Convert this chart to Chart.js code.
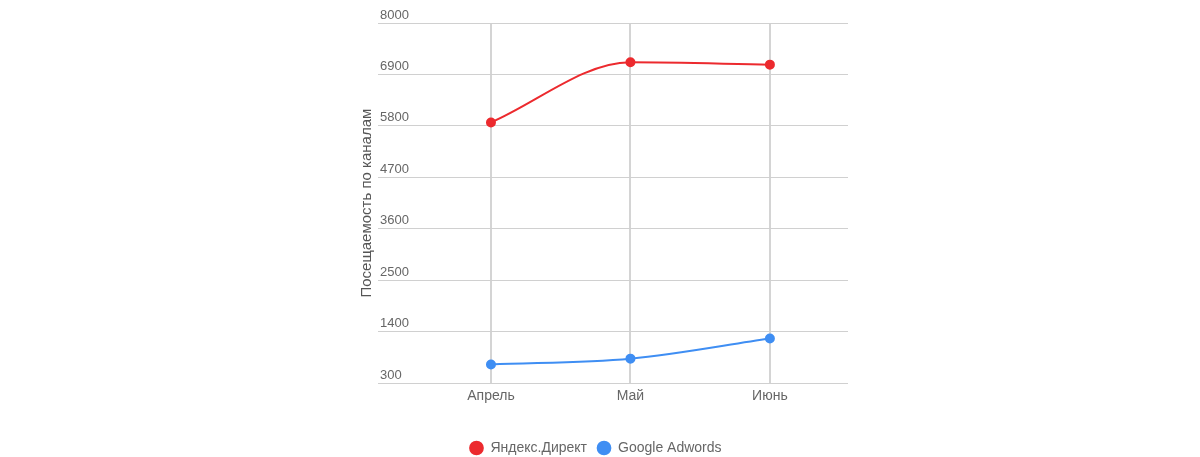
<!DOCTYPE html>
<html>
<head>
<meta charset="utf-8">
<script src="https://cdn.jsdelivr.net/npm/chart.js@4"></script>
<style>
  html, body { margin: 0; padding: 0; background: #fff; }
  #wrap { width: 1200px; height: 457px; }
</style>
</head>
<body>
<div id="wrap"><canvas id="chart"></canvas></div>
<script>
// data
const months = ['Апрель', 'Май', 'Июнь'];
const yandex = [5873, 7160, 7110];
const google = [700, 825, 1255];
const yTicks = [300, 1400, 2500, 3600, 4700, 5800, 6900, 8000];

const FONT = "'Liberation Sans', Arial, sans-serif";
const toPoints = arr => arr.map((v, i) => ({ x: i, y: v }));

// legend sits a bit lower and more to the left than Chart.js puts it
const legendNudge = {
    id: 'legendNudge',
    afterLayout(chart) {
        const lg = chart.legend;
        lg.top += 8;
        lg.bottom += 8;
        lg.left -= 8;
        lg.right -= 8;
    }
};

const ctx = document.getElementById('chart').getContext('2d');
new Chart(ctx, {
    type: 'line',
    data: {
        datasets: [{
            label: 'Яндекс.Директ',
            data: toPoints(yandex),
            borderColor: '#ec2a2e',
            backgroundColor: '#ec2a2e',
            borderWidth: 2,
            pointRadius: 4,
            cubicInterpolationMode: 'monotone'
        }, {
            label: 'Google Adwords',
            data: toPoints(google),
            borderColor: '#3f8ef3',
            backgroundColor: '#3f8ef3',
            borderWidth: 2,
            pointRadius: 4,
            cubicInterpolationMode: 'monotone'
        }]
    },
    plugins: [legendNudge],
    options: {
        responsive: true,
        maintainAspectRatio: false,
        animation: false,
        layout: { padding: { left: 359, right: 352, top: 23, bottom: 0 } },
        plugins: {
            tooltip: { enabled: false },
            legend: {
                position: 'bottom',
                labels: {
                    usePointStyle: true,
                    pointStyle: 'circle',
                    boxWidth: 14,
                    boxHeight: 9,
                    color: '#666',
                    font: { family: FONT, size: 14 },
                    padding: 10
                }
            }
        },
        scales: {
            x: {
                type: 'linear',
                min: -0.81,
                max: 2.56,
                afterBuildTicks: axis => { axis.ticks = months.map((m, i) => ({ value: i })); },
                afterFit: axis => { axis.height += 13; },
                ticks: {
                    callback: v => months[v],
                    color: '#666',
                    font: { family: FONT, size: 14 },
                    padding: 5,
                    maxRotation: 0
                },
                grid: { color: '#d4d4d4', lineWidth: 2, drawTicks: false },
                border: { display: false }
            },
            y: {
                min: 300,
                max: 8000,
                afterBuildTicks: axis => { axis.ticks = yTicks.map(v => ({ value: v })); },
                ticks: {
                    mirror: true,
                    padding: 2,
                    labelOffset: -8,
                    callback: v => String(v),
                    color: '#666',
                    font: { family: FONT, size: 13 }
                },
                grid: { color: '#d0d0d0', lineWidth: 1, drawTicks: false },
                border: { display: false },
                title: {
                    display: true,
                    text: 'Посещаемость по каналам',
                    color: '#555',
                    font: { family: FONT, size: 15, lineHeight: 1 },
                    padding: { top: 0, bottom: 0 }
                }
            }
        }
    }
});
</script>
</body>
</html>
